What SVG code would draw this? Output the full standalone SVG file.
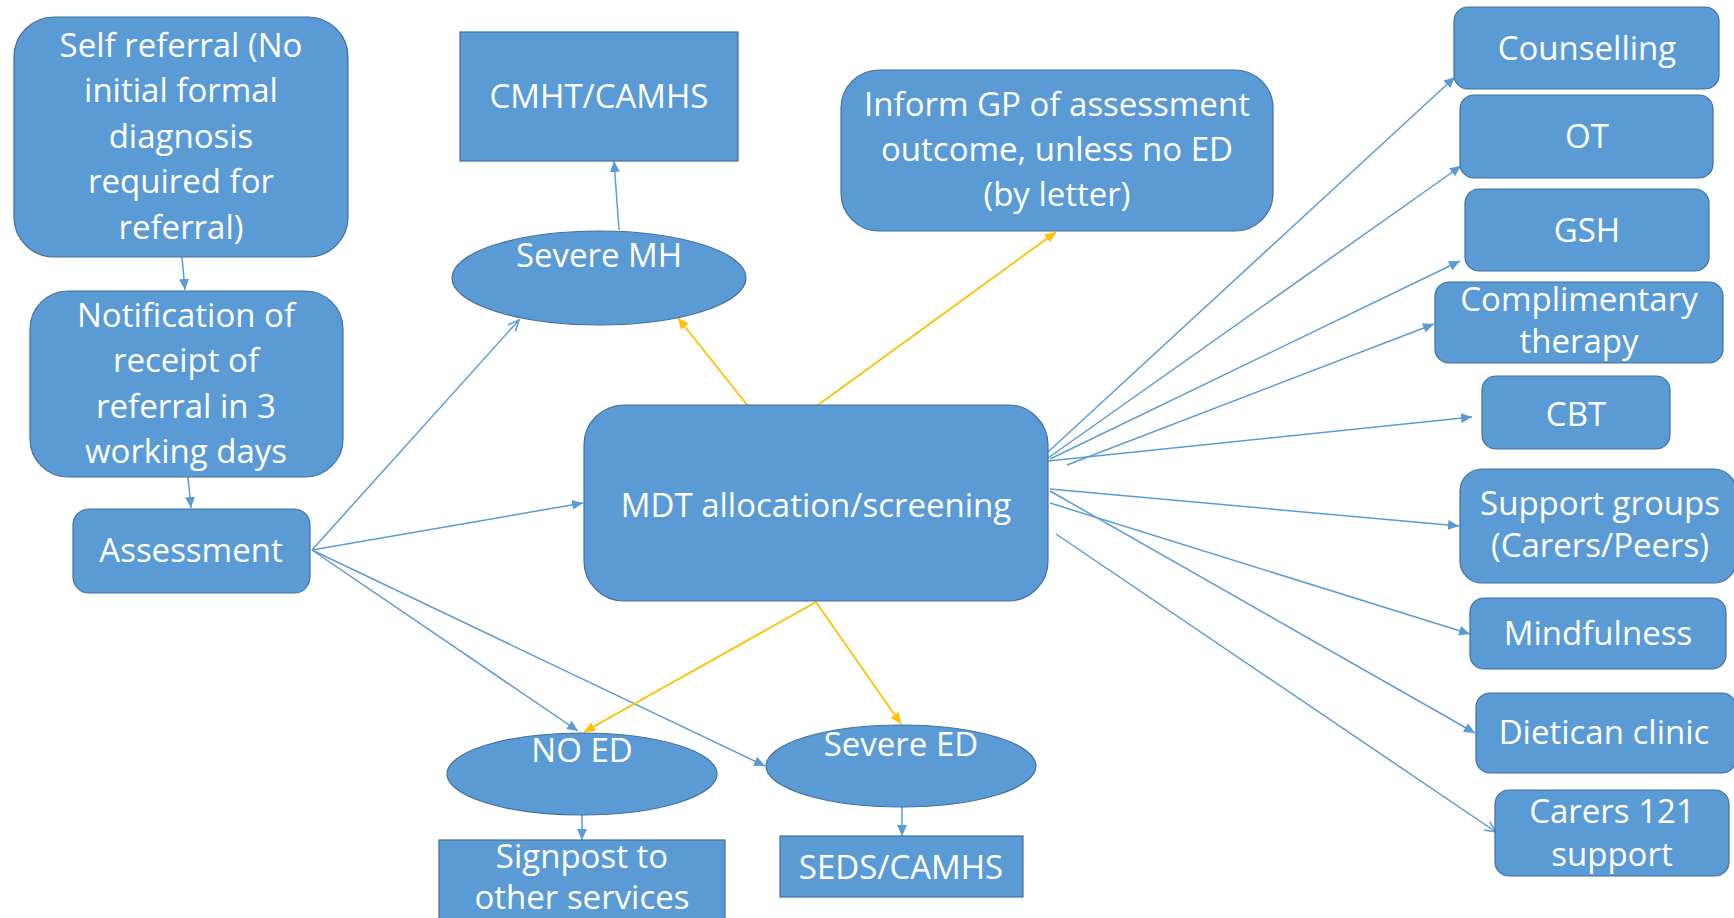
<svg xmlns="http://www.w3.org/2000/svg" width="1734" height="918" viewBox="0 0 1734 918">
<defs>
<style>
.b{fill:#5B9BD5;stroke:#41719C;stroke-width:1.2}
.t{font-family:"Open Sans","Liberation Sans",sans-serif;font-size:33px;fill:#FFFFFF;text-anchor:middle}
.c{fill:none;stroke:#5B9BD5;stroke-width:1.5}
.y{fill:none;stroke:#FFC000;stroke-width:1.8}
</style>
<marker id="ab" markerUnits="userSpaceOnUse" markerWidth="12" markerHeight="10" refX="11" refY="5" orient="auto"><path d="M0,0 L11,5 L0,10 z" fill="#5B9BD5"/></marker>
<marker id="ay" markerUnits="userSpaceOnUse" markerWidth="12" markerHeight="10" refX="11" refY="5" orient="auto"><path d="M0,0 L11,5 L0,10 z" fill="#FFC000"/></marker>
<marker id="ao" markerUnits="userSpaceOnUse" markerWidth="13" markerHeight="12" refX="12" refY="6" orient="auto"><path d="M1,1 L12,6 L1,11" fill="none" stroke="#5B9BD5" stroke-width="1.5"/></marker>
</defs>
<rect width="1734" height="918" fill="#FFFFFF"/>

<g id="connectors">
<line class="c" x1="182" y1="257" x2="185" y2="290" marker-end="url(#ab)"/>
<line class="c" x1="188" y1="477" x2="191" y2="508" marker-end="url(#ab)"/>
<line class="c" x1="312" y1="550" x2="519" y2="320" marker-end="url(#ao)"/>
<line class="c" x1="312" y1="550" x2="583" y2="503" marker-end="url(#ab)"/>
<line class="c" x1="312" y1="550" x2="578" y2="731" marker-end="url(#ab)"/>
<line class="c" x1="312" y1="550" x2="765" y2="766" marker-end="url(#ab)"/>
<line class="c" x1="619" y1="230" x2="614" y2="161" marker-end="url(#ab)"/>
<line class="y" x1="748" y1="406" x2="678" y2="318" marker-end="url(#ay)"/>
<line class="y" x1="818" y1="405" x2="1056" y2="232" marker-end="url(#ay)"/>
<line class="y" x1="816" y1="602" x2="584" y2="732" marker-end="url(#ay)"/>
<line class="y" x1="816" y1="602" x2="901" y2="724" marker-end="url(#ay)"/>
<line class="c" x1="582" y1="815" x2="582" y2="840" marker-end="url(#ab)"/>
<line class="c" x1="902" y1="807" x2="902" y2="836" marker-end="url(#ab)"/>
<line class="c" x1="1048" y1="452" x2="1455" y2="77" marker-end="url(#ab)"/>
<line class="c" x1="1048" y1="458" x2="1461" y2="166" marker-end="url(#ab)"/>
<line class="c" x1="1050" y1="459" x2="1460" y2="261" marker-end="url(#ab)"/>
<line class="c" x1="1067" y1="465" x2="1434" y2="324" marker-end="url(#ab)"/>
<line class="c" x1="1048" y1="461" x2="1472" y2="417" marker-end="url(#ab)"/>
<line class="c" x1="1050" y1="489" x2="1459" y2="526" marker-end="url(#ab)"/>
<line class="c" x1="1050" y1="503" x2="1470" y2="634" marker-end="url(#ab)"/>
<line class="c" x1="1050" y1="491" x2="1475" y2="733" marker-end="url(#ab)"/>
<line class="c" x1="1056" y1="534" x2="1496" y2="832" marker-end="url(#ao)"/>
</g>

<g id="self-referral"><rect class="b" x="14" y="17" width="334" height="240" rx="40"/>
<text class="t"><tspan x="181" y="57">Self referral (No</tspan><tspan x="181" y="102">initial formal</tspan><tspan x="181" y="148">diagnosis</tspan><tspan x="181" y="193">required for</tspan><tspan x="181" y="239">referral)</tspan></text></g>

<g id="notification"><rect class="b" x="30" y="291" width="313" height="186" rx="38"/>
<text class="t"><tspan x="186" y="327">Notification of</tspan><tspan x="186" y="372">receipt of</tspan><tspan x="186" y="418">referral in 3</tspan><tspan x="186" y="463">working days</tspan></text></g>

<g id="assessment"><rect class="b" x="73" y="509" width="237" height="84" rx="16"/>
<text class="t" x="191" y="562">Assessment</text></g>

<g id="cmht"><rect class="b" x="460" y="32" width="278" height="129"/>
<text class="t" x="599" y="108">CMHT/CAMHS</text></g>

<g id="severe-mh"><ellipse class="b" cx="599" cy="278" rx="147" ry="47"/>
<text class="t" x="599" y="267">Severe MH</text></g>

<g id="inform-gp"><rect class="b" x="841" y="70" width="432" height="161" rx="38"/>
<text class="t"><tspan x="1057" y="116">Inform GP of assessment</tspan><tspan x="1057" y="161">outcome, unless no ED</tspan><tspan x="1057" y="206">(by letter)</tspan></text></g>

<g id="mdt"><rect class="b" x="584" y="405" width="464" height="196" rx="40"/>
<text class="t" x="816" y="517">MDT allocation/screening</text></g>

<g id="no-ed"><ellipse class="b" cx="582" cy="774" rx="135" ry="41"/>
<text class="t" x="582" y="762">NO ED</text></g>

<g id="severe-ed"><ellipse class="b" cx="901" cy="766" rx="135" ry="41"/>
<text class="t" x="901" y="756">Severe ED</text></g>

<g id="signpost"><rect class="b" x="439" y="840" width="286" height="100"/>
<text class="t"><tspan x="582" y="868">Signpost to</tspan><tspan x="582" y="909">other services</tspan></text></g>

<g id="seds"><rect class="b" x="780" y="836" width="243" height="61"/>
<text class="t" x="901" y="879">SEDS/CAMHS</text></g>

<g id="counselling"><rect class="b" x="1454" y="7" width="265" height="82" rx="14"/>
<text class="t" x="1587" y="60">Counselling</text></g>

<g id="ot"><rect class="b" x="1460" y="95" width="253" height="83" rx="14"/>
<text class="t" x="1587" y="148">OT</text></g>

<g id="gsh"><rect class="b" x="1465" y="189" width="244" height="82" rx="14"/>
<text class="t" x="1587" y="242">GSH</text></g>

<g id="complimentary"><rect class="b" x="1435" y="282" width="288" height="81" rx="14"/>
<text class="t"><tspan x="1579" y="311">Complimentary</tspan><tspan x="1579" y="353">therapy</tspan></text></g>

<g id="cbt"><rect class="b" x="1482" y="376" width="188" height="73" rx="14"/>
<text class="t" x="1576" y="426">CBT</text></g>

<g id="support-groups"><rect class="b" x="1460" y="469" width="276" height="114" rx="22"/>
<text class="t"><tspan x="1600" y="515">Support groups</tspan><tspan x="1600" y="557">(Carers/Peers)</tspan></text></g>

<g id="mindfulness"><rect class="b" x="1470" y="598" width="256" height="71" rx="14"/>
<text class="t" x="1598" y="645">Mindfulness</text></g>

<g id="dietican"><rect class="b" x="1476" y="693" width="260" height="80" rx="14"/>
<text class="t" x="1604" y="744">Dietican clinic</text></g>

<g id="carers121"><rect class="b" x="1495" y="790" width="234" height="86" rx="14"/>
<text class="t"><tspan x="1612" y="823">Carers 121</tspan><tspan x="1612" y="866">support</tspan></text></g>
</svg>
